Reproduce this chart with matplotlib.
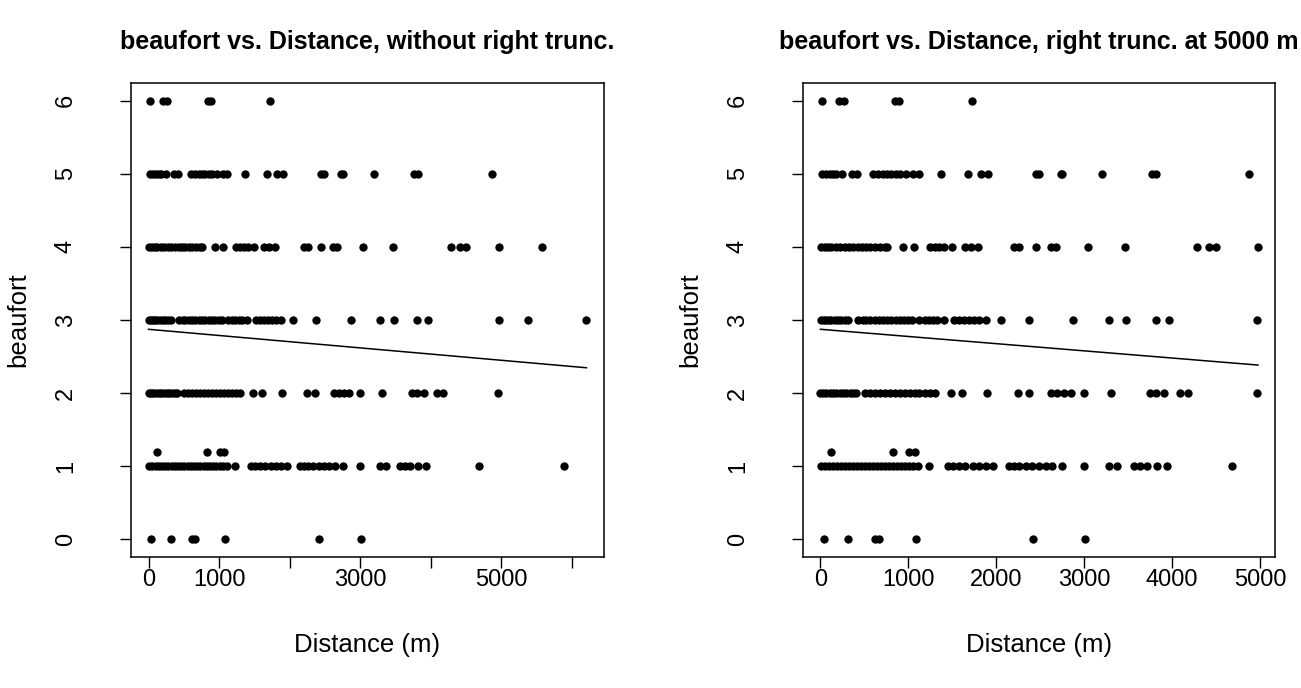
import numpy as np
import matplotlib.pyplot as plt

plt.rcParams['font.family'] = ['Liberation Sans', 'DejaVu Sans']

# distances (m), grouped by beaufort value
dist_b6 = [14, 212, 268, 850, 888, 1727]
dist_b5 = [15, 60, 106, 144, 174, 250, 363, 416, 597, 654, 711, 756, 805, 854,
           900, 975, 1051, 1119, 1372, 1682, 1826, 1901, 2449, 2487, 2733, 2752,
           3198, 3765, 3818, 4876]
dist_b4 = [11, 49, 87, 125, 174, 219, 276, 325, 370, 427, 476, 522, 567, 616,
           673, 730, 756, 937, 1062, 1240, 1297, 1353, 1410, 1497, 1644, 1712,
           1788, 2204, 2260, 2449, 2620, 2676, 3043, 3462, 4287, 4423, 4498,
           4970, 5578]
dist_b3 = [11, 38, 68, 98, 125, 163, 200, 238, 276, 314, 427, 484, 522, 567,
           616, 665, 711, 756, 805, 854, 900, 945, 994, 1043, 1126, 1183, 1232,
           1278, 1323, 1399, 1523, 1580, 1637, 1693, 1750, 1807, 1882, 2053,
           2374, 2873, 3281, 3478, 3810, 3961, 4968, 5375, 6210]
dist_b2 = [0, 30, 68, 106, 144, 181, 219, 257, 295, 333, 370, 408, 503, 559,
           616, 673, 730, 786, 843, 900, 956, 1013, 1070, 1126, 1183, 1240,
           1297, 1486, 1607, 1894, 2242, 2366, 2627, 2695, 2771, 2846, 2998,
           3308, 3742, 3810, 3912, 4086, 4177, 4960]
dist_b12 = [125, 824, 1008, 1072]
dist_b1 = [11, 56, 102, 147, 192, 238, 283, 328, 374, 419, 464, 510, 555, 601,
           646, 691, 737, 782, 828, 873, 918, 963, 1009, 1054, 1107, 1231, 1447,
           1511, 1579, 1647, 1730, 1806, 1882, 1957, 2146, 2203, 2260, 2335,
           2411, 2487, 2562, 2638, 2751, 2997, 3280, 3374, 3563, 3639, 3714,
           3827, 3941, 4680, 5894]
dist_b0 = [38, 315, 615, 660, 1090, 2421, 3009]

groups = [(6, dist_b6), (5, dist_b5), (4, dist_b4), (3, dist_b3), (2, dist_b2),
          (1.2, dist_b12), (1, dist_b1), (0, dist_b0)]
distance = np.concatenate([np.array(d, dtype=float) for _, d in groups])
beaufort = np.concatenate([np.full(len(d), b) for b, d in groups])

# fitted lines as drawn (end points)
fit_full_x = [0, 6210]
fit_full_y = [2.873, 2.347]
fit_trunc_x = [0, 4975]
fit_trunc_y = [2.873, 2.384]

trunc = 5000
keep = distance <= trunc

W, H = 1301, 688
fig = plt.figure(figsize=(W / 100, H / 100), dpi=100)
ax1 = fig.add_axes([131 / W, 131 / H, 473 / W, 474 / H])
ax2 = fig.add_axes([803 / W, 131 / H, 472 / W, 474 / H])


def draw(ax, x, y, lx, ly, xticks, xlabels):
    ax.plot(x, y, 'o', color='black', markersize=6, markeredgewidth=0)
    ax.plot(lx, ly, color='black', linewidth=1.1)
    span = x.max() - x.min()
    ax.set_xlim(x.min() - 0.04 * span, x.max() + 0.04 * span)
    ax.set_ylim(-0.24, 6.24)
    ax.set_xticks(xticks)
    ax.set_xticklabels(xlabels)
    ax.set_yticks(range(7))
    ax.set_yticklabels([str(i) for i in range(7)], rotation=90, va='center')
    ax.tick_params(labelsize=17, length=8, width=1, direction='out')
    ax.tick_params(axis='x', pad=1)
    ax.tick_params(axis='y', pad=31)
    for s in ax.spines.values():
        s.set_linewidth(1.1)


draw(ax1, distance, beaufort, fit_full_x, fit_full_y,
     range(0, 7000, 1000), ['0', '1000', '', '3000', '', '5000', ''])
draw(ax2, distance[keep], beaufort[keep], fit_trunc_x, fit_trunc_y,
     range(0, 6000, 1000), ['0', '1000', '2000', '3000', '4000', '5000'])

for cx, title in [(367.5, 'beaufort vs. Distance, without right trunc.'),
                  (1039, 'beaufort vs. Distance, right trunc. at 5000 m')]:
    fig.text(cx / W, 1 - 42 / H, title, ha='center', va='center',
             fontsize=18, fontweight='bold')
    fig.text(cx / W, 1 - 645 / H, 'Distance (m)', ha='center', va='center',
             fontsize=18.5)

for lx in [18, 690]:
    fig.text(lx / W, 1 - 320 / H, 'beaufort', ha='center', va='center',
             rotation=90, fontsize=18.5)

fig.savefig('out.png', dpi=100)
